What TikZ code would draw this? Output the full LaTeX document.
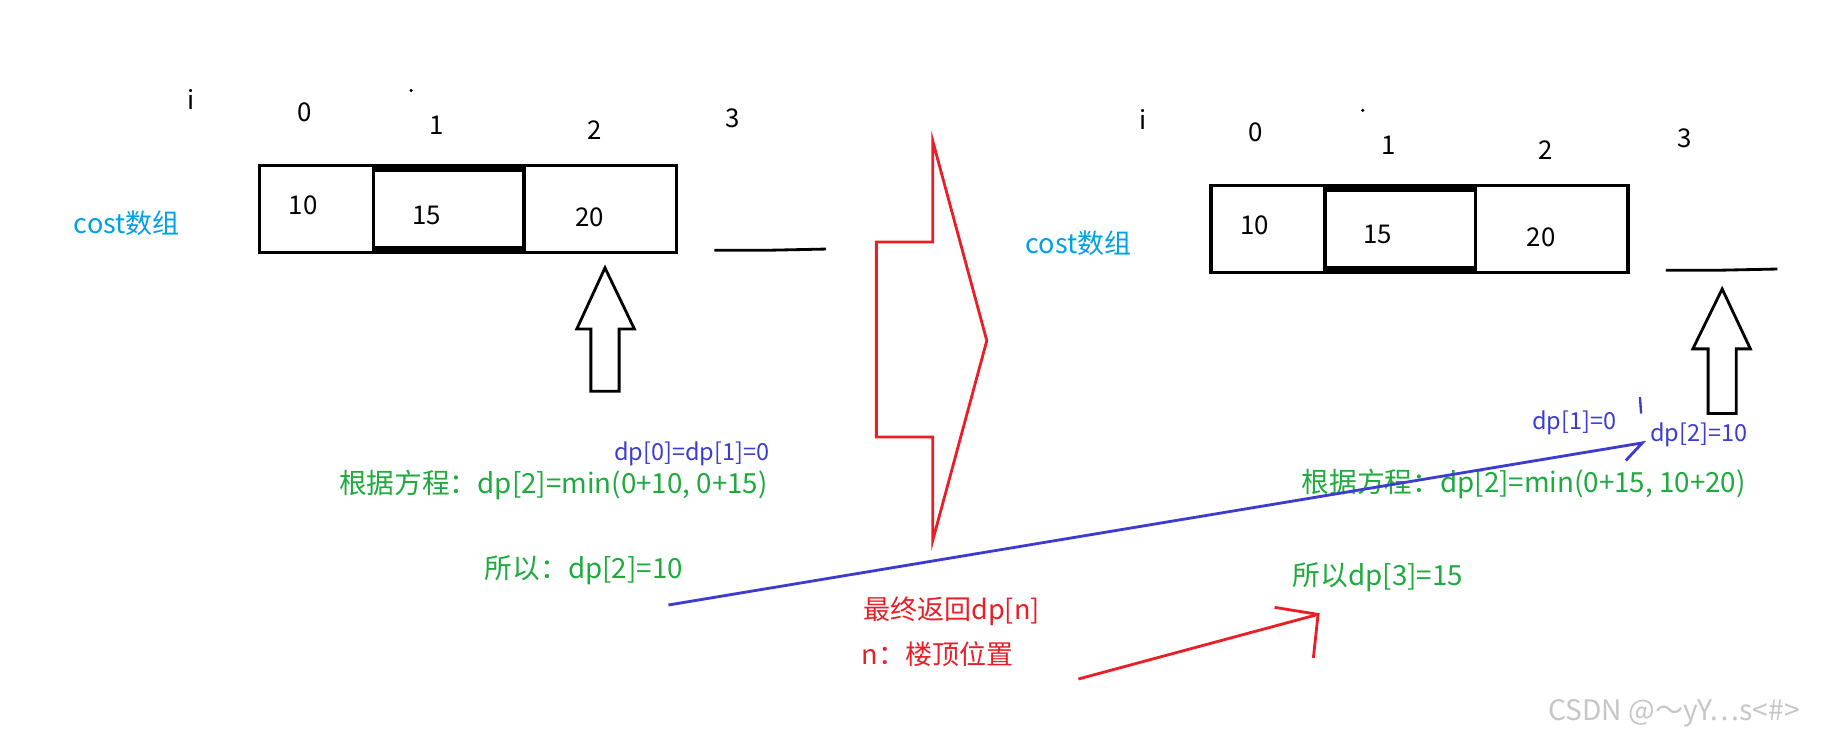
\documentclass[tikz,border=0pt]{standalone}
\usepackage{fontspec}
\setmainfont{Noto Sans CJK SC}
\usetikzlibrary{positioning}
\definecolor{costblue}{RGB}{0,160,230}
\definecolor{eqgreen}{RGB}{30,170,60}
\definecolor{dpblue}{RGB}{60,60,210}
\definecolor{arrowred}{RGB}{235,30,40}
\tikzset{
    idx/.style={font=\fontsize{11pt}{13pt}\selectfont},
    val/.style={font=\fontsize{11pt}{13pt}\selectfont},
    costlabel/.style={text=costblue, font=\fontsize{11.5pt}{13pt}\selectfont},
    eqtext/.style={text=eqgreen, font=\fontsize{11.8pt}{14pt}\selectfont},
    dptext/.style={text=dpblue, font=\fontsize{10pt}{12pt}\selectfont},
    redtext/.style={text=arrowred, font=\fontsize{11.5pt}{13pt}\selectfont},
    hollow/.style={draw=black, line width=1.2pt, fill=white},
}
\begin{document}
\begin{tikzpicture}[x=0.5pt, y=-0.5pt]
	\useasboundingbox (0,0) rectangle (1568,637);
	% two copies of the array, left and right
	\foreach \dx/\dy/\nm in {0/0/L, 810/17/R}{
	\begin{scope}[shift={(\dx,\dy)}]
		\node[idx] (i\nm) at (163,85) {i};
		\node[idx] (z\nm) at (259,96) {0};
		\node[idx] (o\nm) at (372,107) {1};
		\node[idx] (t\nm) at (506,111) {2};
		\node[idx] (h\nm) at (624,101) {3};
		\fill (350,77) circle (1.5);
		\node[costlabel] (cost\nm) at (108,190) {cost数组};
		\draw[line width=1.5pt] (221,141) rectangle (576,215);
		\draw[line width=1.5pt] (318,141) -- (318,215) (446,141) -- (446,215);
		\draw[line width=2.5pt] (318,144) -- (446,144) (318,212) -- (446,212);
		\node[val] (a\nm) at (258,175) {10};
		\node[val] (b\nm) at (363,183) {15};
		\node[val] (c\nm) at (502,185) {20};
		\draw[line width=1.2pt] (608,213) -- (655,213) -- (703,212);
	\end{scope}}
	% hollow arrows
	\draw[hollow] (515,228) -- (540,280) -- (527,280) -- (527,333) -- (503,333)
		-- (503,280) -- (491,280) -- cycle;
	\draw[hollow] (1466,246) -- (1490,297) -- (1478,297) -- (1478,352) -- (1454,352)
		-- (1454,297) -- (1441,297) -- cycle;
	% big red arrow
	\draw[arrowred, line width=1.2pt] (794,120) -- (840,290) -- (794,460) -- (794,372)
		-- (746,372) -- (746,206) -- (794,206) -- cycle;
	% left equations
	\node[dptext] (dpL) at (589,386) {dp[0]=dp[1]=0};
	\node[eqtext] (eqL) at (471,413) {根据方程：dp[2]=min(0+10, 0+15)};
	\node[eqtext] (soL) at (497,485) {所以：dp[2]=10};
	% right equations
	\node[dptext] (dpa) at (1340,360) {dp[1]=0};
	\node[dptext] (dpb) at (1446,370) {dp[2]=10};
	\node[eqtext] (eqR) at (1297,412) {根据方程：dp[2]=min(0+15, 10+20)};
	\node[eqtext] (soR) at (1173,491) {所以dp[3]=15};
	% blue stroke
	\coordinate (bs) at (569,515);
	\coordinate (be) at (1398,377);
	\draw[dpblue, line width=1.2pt] (bs) -- (be) -- (1384,392);
	\draw[dpblue, line width=1pt] (1396,338) -- (1397,352);
	% red notes
	\node[redtext] (ret) at (810,520) {最终返回dp[n]};
	\node[redtext] (top) at (798,557) {n：楼顶位置};
	\coordinate (rs) at (918,578);
	\coordinate (re) at (1122,523);
	\draw[arrowred, line width=1.2pt] (rs) -- (re);
	\draw[arrowred, line width=1.2pt] (1085,517) -- (re) -- (1118,560);
	% watermark
	\node[text=gray!45, font=\fontsize{12pt}{14pt}\selectfont] (wm) at (1425,607) {CSDN @～yY…s<\#>};
\end{tikzpicture}
\end{document}
